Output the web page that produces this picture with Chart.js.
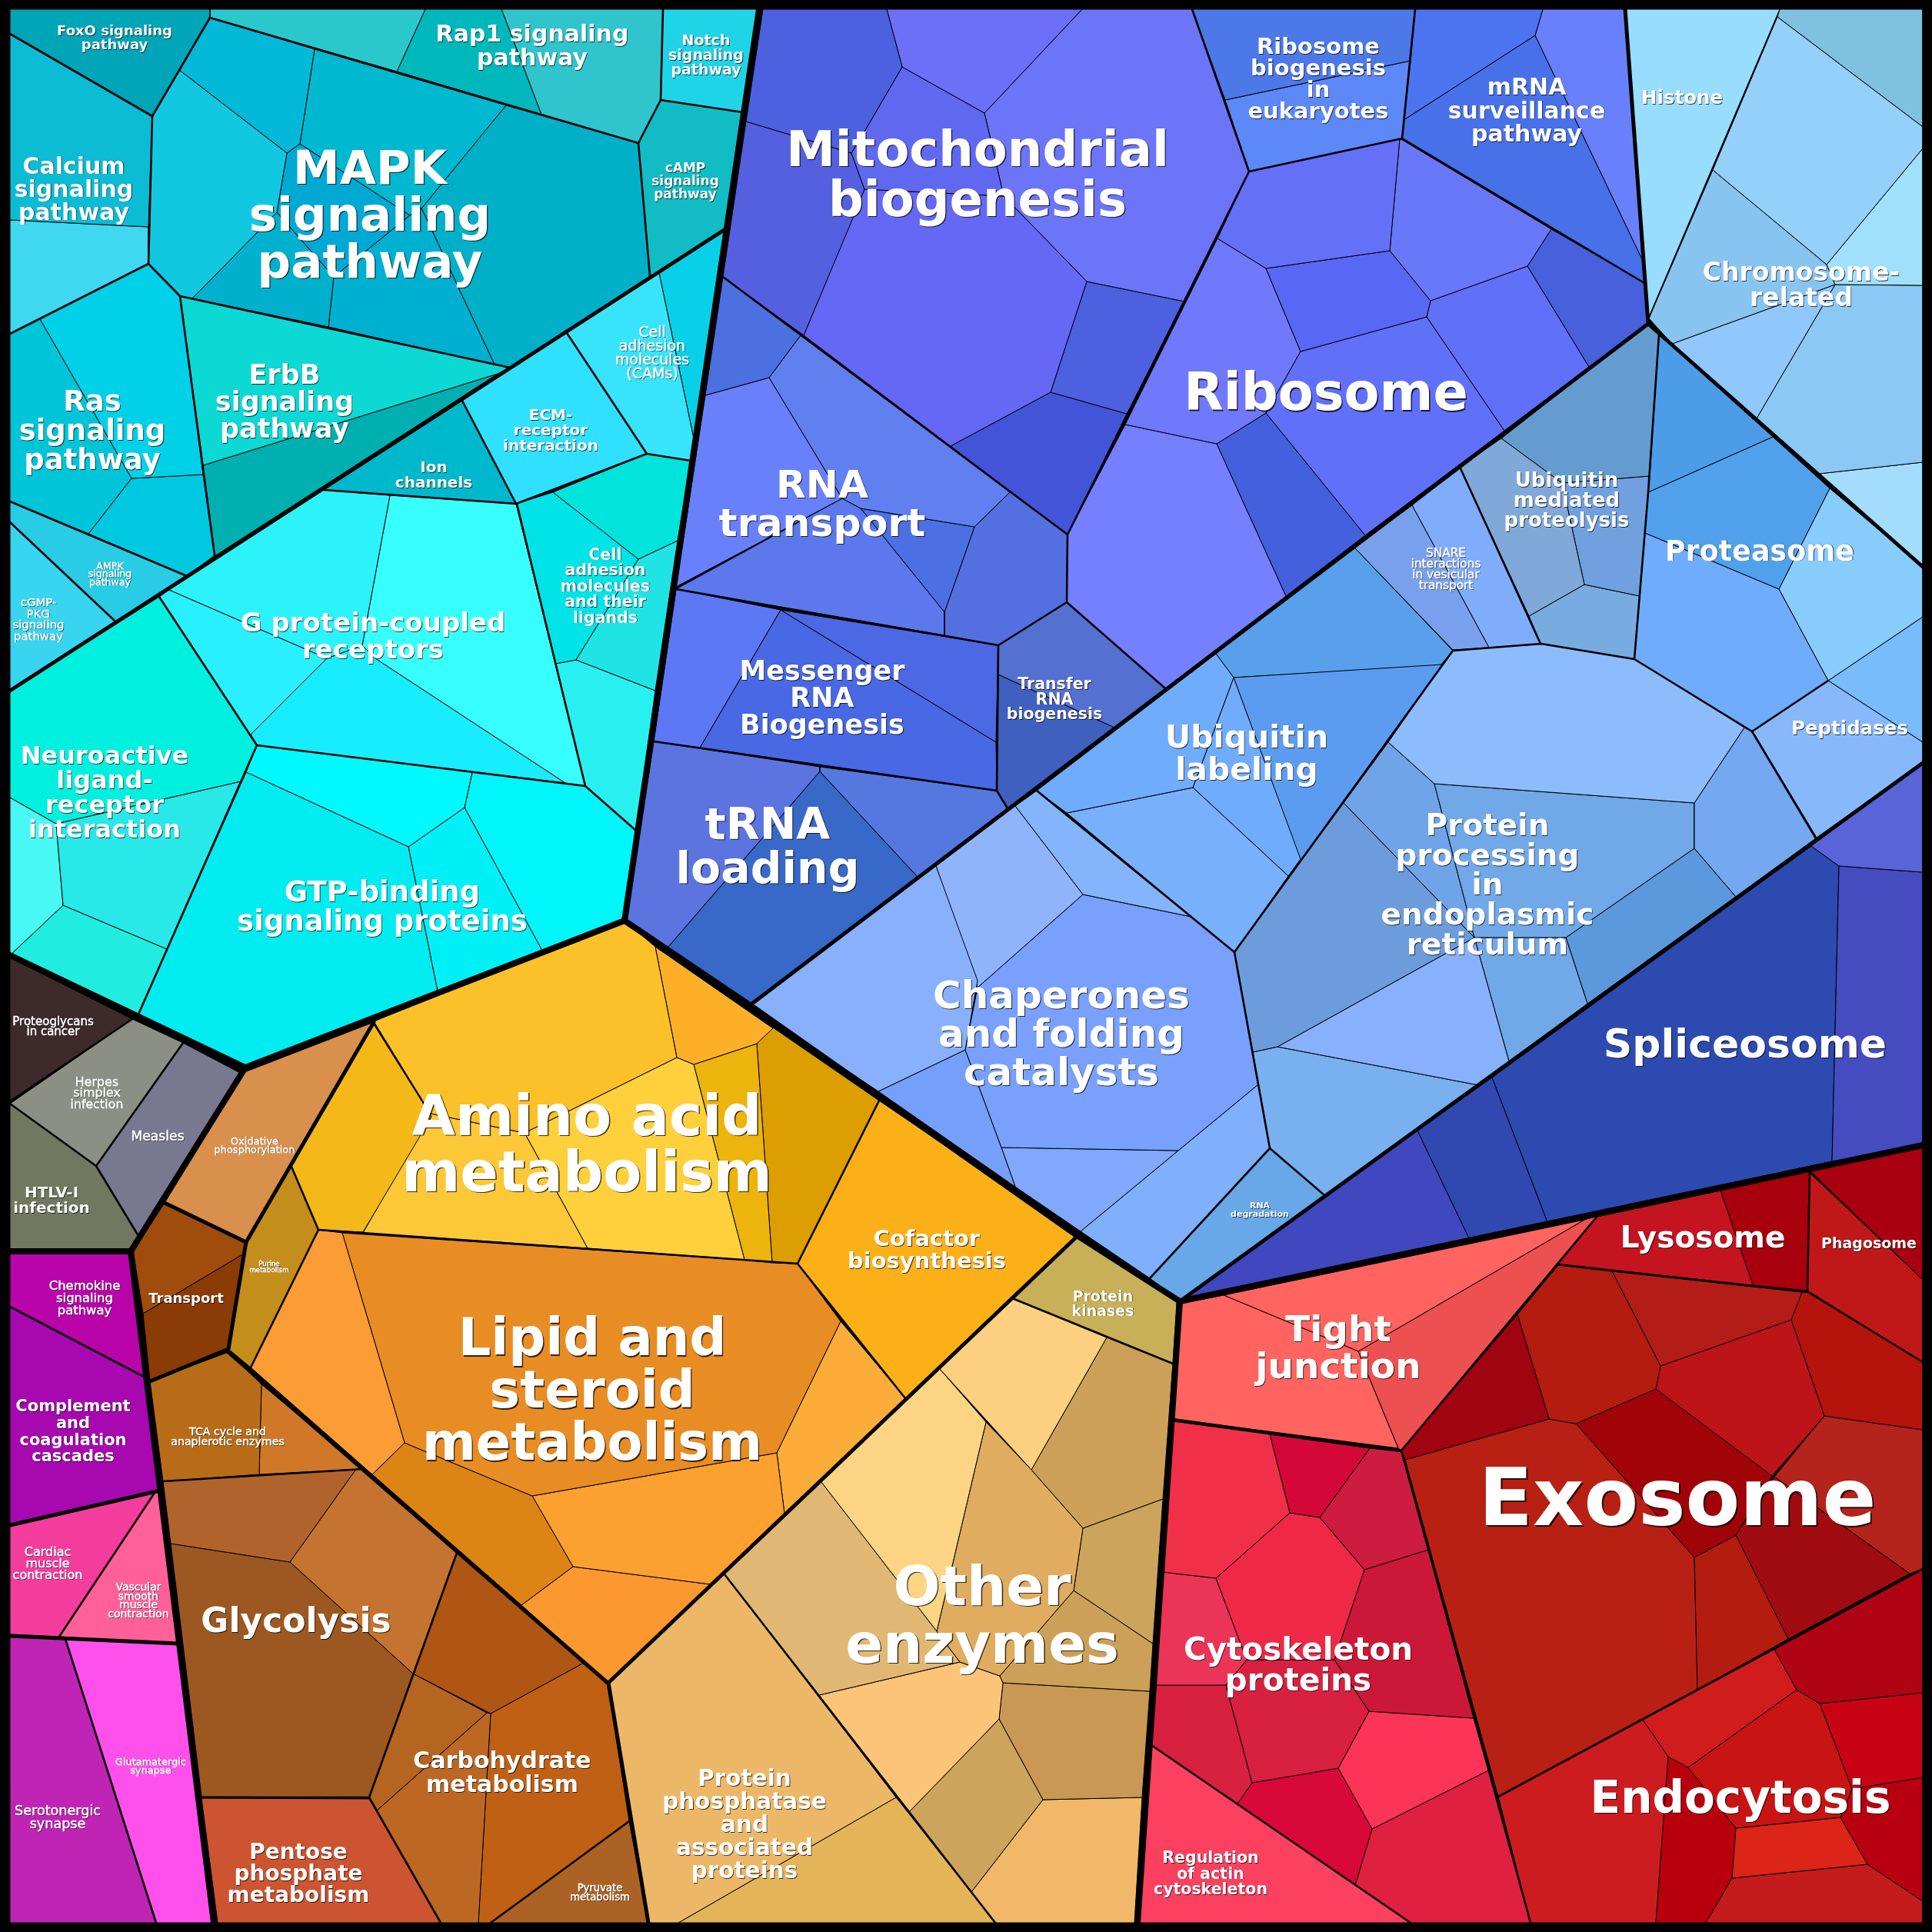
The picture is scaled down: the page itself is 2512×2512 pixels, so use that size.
<!DOCTYPE html>
<html>
<head>
<meta charset="utf-8">
<title>Proteomap</title>
<script src="https://cdn.jsdelivr.net/npm/chart.js@4"></script>
<style>
html, body { margin: 0; padding: 0; background: #000; overflow: hidden; }
canvas { display: block; }
</style>
</head>
<body>
<canvas id="proteomap" width="2512" height="2512"></canvas>
<script>
// cell outlines
const signalingCells = [
    [[13,12],[273,12],[273,23],[233,91],[198,151],[13,44]],
    [[13,44],[198,151],[193,295],[13,286]],
    [[13,286],[193,295],[193,343],[13,434]],
    [[198,151],[233,91],[373,199],[360,276],[250,388],[234,385],[193,343]],
    [[233,91],[273,23],[409,64],[390,187],[373,199]],
    [[409,64],[658,137],[548,271],[533,280],[390,187]],
    [[373,199],[390,187],[533,280],[434,360],[360,276]],
    [[360,276],[434,360],[427,425],[250,388]],
    [[434,360],[533,280],[548,271],[561,298],[596,374],[643,474],[427,425]],
    [[658,137],[830,186],[845,359],[663,478],[643,474],[596,374],[561,298],[548,271]],
    [[273,12],[553,12],[516,93],[273,23]],
    [[553,12],[652,12],[704,149],[516,93]],
    [[652,12],[862,12],[859,130],[830,186],[704,149]],
    [[862,12],[987,12],[966,146],[859,130]],
    [[859,130],[966,146],[943,298],[845,359],[830,186]],
    [[13,434],[52,415],[171,622],[115,694],[13,652]],
    [[52,415],[193,343],[234,385],[264,617],[171,622]],
    [[171,622],[264,617],[279,722],[243,749],[115,694]],
    [[13,652],[243,749],[150,808],[13,679]],
    [[13,679],[150,808],[13,898]],
    [[234,385],[663,478],[647,486],[264,605]],
    [[264,605],[647,486],[279,723]],
    [[601,521],[671,655],[421,637]],
    [[601,521],[737,433],[841,590],[671,655]],
    [[737,433],[857,355],[903,575],[898,599],[841,590]],
    [[857,355],[943,298],[903,575]],
    [[841,590],[898,599],[881,703],[830,727],[719,640]],
    [[830,727],[881,703],[852,898],[749,858]],
    [[671,655],[719,640],[830,727],[749,858],[722,863]],
    [[722,863],[749,858],[852,898],[827,1080],[761,1022]],
    [[421,637],[507,644],[471,839],[425,856],[220,767]],
    [[507,644],[671,655],[761,1022],[735,1018],[488,856],[471,839]],
    [[207,776],[220,767],[425,856],[326,955],[334,969]],
    [[425,856],[471,839],[488,856],[735,1018],[334,969],[326,955]],
    [[13,899],[207,776],[334,969],[313,1016],[73,1071],[13,1037]],
    [[73,1071],[313,1016],[217,1234],[82,1177]],
    [[13,1037],[73,1071],[82,1177],[13,1242]],
    [[82,1177],[217,1234],[179,1321],[13,1242]],
    [[320,1004],[531,1101],[569,1289],[319,1388],[179,1321]],
    [[334,969],[614,1004],[604,1050],[531,1101],[320,1004]],
    [[531,1101],[604,1050],[705,1236],[569,1289]],
    [[614,1004],[761,1022],[827,1080],[812,1197],[705,1236],[604,1050]]
];
const signalingColors = [
    '#00a5b8','#0bbcd4','#3fd8f0','#12c8e0','#04b8d8','#00b8d0','#00a8d4','#00b0cc','#00b0d0','#00b0c8',
    '#2ac8cc','#00b8bc','#30c4cc','#20d4e8','#12bcc4','#00c4d8','#00d0e8','#00c8e0','#28cce4','#38d4f0',
    '#0cd8d4','#00b0b0','#00b8cc','#30e0ff','#38e4fc','#08d0e8','#00e4dc','#20e4e4','#00e4e8','#28f0f0',
    '#2cf2fa','#38ffff','#28f0ff','#18ecff','#00f0e0','#28e8e8','#48f8f4','#20ece0','#00ecf0','#00faff',
    '#00f0f8','#00f6fa'
];

const infoCells = [
    [[992,12],[1153,12],[1173,87],[1124,171],[1107,199],[970,158]],
    [[1153,12],[1407,12],[1280,147],[1173,87]],
    [[1173,87],[1280,147],[1305,255],[1124,246],[1107,199],[1124,171]],
    [[970,158],[1107,199],[1124,246],[1110,281],[1045,436],[940,360]],
    [[1124,246],[1305,255],[1413,366],[1366,510],[1236,580],[1045,436]],
    [[1407,12],[1550,12],[1624,223],[1540,392],[1413,366],[1305,255],[1280,147]],
    [[1413,366],[1540,392],[1465,538],[1366,510]],
    [[1366,510],[1465,538],[1388,695],[1236,580]],
    [[1550,12],[1840,12],[1834,79],[1593,130]],
    [[1593,130],[1834,79],[1823,180],[1624,223]],
    [[1840,12],[2006,12],[1996,46],[1825,156]],
    [[2006,12],[2113,12],[2135,337],[1996,46]],
    [[1825,156],[1996,46],[2135,337],[2138,368],[1823,180]],
    [[1624,223],[1820,180],[1807,326],[1646,349],[1583,310]],
    [[1820,180],[2017,298],[1986,346],[1860,391],[1807,326]],
    [[2017,298],[2138,368],[2143,421],[2066,477],[1986,346]],
    [[1646,349],[1807,326],[1860,391],[1855,412],[1691,457]],
    [[1855,412],[1860,391],[1986,346],[2066,477],[1956,560]],
    [[1691,457],[1855,412],[1956,560],[1775,696],[1646,537]],
    [[1583,310],[1646,349],[1691,457],[1646,537],[1582,577],[1463,552]],
    [[1582,577],[1646,537],[1775,696],[1672,775]],
    [[1463,552],[1582,577],[1672,775],[1515,895],[1387,783],[1388,695]],
    [[940,360],[1041,436],[1000,491],[917,514]],
    [[1041,436],[1313,640],[1267,685],[1119,661],[1095,648],[1000,491]],
    [[917,514],[1000,491],[1095,648],[879,763]],
    [[1095,648],[1119,661],[1228,796],[1228,826],[879,766]],
    [[1119,661],[1267,685],[1228,796]],
    [[1267,685],[1313,640],[1388,695],[1387,783],[1298,839],[1228,826],[1228,796]],
    [[879,766],[1015,793],[910,972],[850,964]],
    [[1015,793],[1298,839],[1295,965]],
    [[1015,793],[1295,965],[1296,1028],[910,972]],
    [[1298,839],[1387,783],[1515,895],[1449,946],[1298,877]],
    [[1298,877],[1449,946],[1310,1051],[1296,1028]],
    [[850,964],[1066,997],[1066,1003],[868,1232],[814,1198]],
    [[1066,997],[1296,1028],[1310,1051],[1193,1140],[1066,1003]],
    [[1066,1003],[1193,1140],[975,1307],[868,1232]]
];
const infoColors = [
    '#4c60e0','#6c70f8','#6068f0','#5460e0','#6468f4','#6c74f8','#4c60e0','#4454d8','#4c78e8','#5c88f8',
    '#4c74f0','#6880fc','#4870e8','#6470f8','#6878f8','#4860dc','#5868f4','#6070f8','#6070f8','#7078fc',
    '#4460dc','#7480ff','#4c70e0','#6080f0','#6880fc','#5c78ec','#4c70e4','#5470e0','#5c78f4','#4c68e4',
    '#4868e4','#5470d0','#4060c0','#5c74e0','#5478e0','#3868c8'
];

const foldingCells = [
    [[1217,1126],[1271,1275],[1255,1365],[1142,1419],[975,1307]],
    [[1320,1048],[1408,1163],[1271,1284],[1217,1126]],
    [[1320,1048],[1348,1028],[1549,1192],[1408,1163]],
    [[1408,1163],[1549,1192],[1605,1238],[1636,1410],[1532,1496],[1302,1492],[1255,1365],[1271,1284]],
    [[1142,1419],[1255,1365],[1302,1492],[1320,1543]],
    [[1302,1492],[1532,1496],[1405,1601],[1320,1543]],
    [[1532,1496],[1636,1410],[1651,1493],[1495,1662],[1405,1601]],
    [[1651,1493],[1722,1554],[1534,1692],[1495,1662]],
    [[1348,1028],[1581,850],[1604,881],[1551,1024],[1387,1057]],
    [[1387,1057],[1551,1024],[1675,1139],[1605,1238]],
    [[1604,881],[1691,1117],[1675,1139],[1551,1024]],
    [[1604,881],[1875,864],[1691,1119]],
    [[1581,850],[1761,712],[1889,846],[1873,865],[1604,881]],
    [[1761,712],[1836,657],[1936,842],[1889,845]],
    [[1836,657],[1898,607],[2003,837],[1936,842]],
    [[1898,607],[1952,570],[2031,628],[2044,687],[2060,760],[1988,801]],
    [[1952,570],[2143,421],[2157,435],[2145,619],[2031,628]],
    [[2031,628],[2145,619],[2132,775],[2060,760],[2044,687]],
    [[1988,801],[2060,760],[2132,775],[2125,857],[2003,837]],
    [[2157,435],[2305,568],[2143,640]],
    [[2143,640],[2305,568],[2379,635],[2313,766],[2139,693]],
    [[2139,693],[2313,766],[2377,885],[2279,951],[2125,857]],
    [[2379,635],[2500,737],[2500,802],[2377,885],[2313,766]],
    [[2279,951],[2377,885],[2500,965],[2500,992],[2362,1089]],
    [[2377,885],[2500,802],[2500,965]],
    [[2113,12],[2314,12],[2143,414]],
    [[2311,22],[2500,165],[2500,193],[2375,344],[2227,221]],
    [[2314,12],[2500,12],[2500,165],[2311,22]],
    [[2375,344],[2500,193],[2500,371],[2386,370]],
    [[2227,221],[2375,344],[2386,370],[2174,447],[2144,414]],
    [[2174,447],[2386,370],[2284,544]],
    [[2386,370],[2500,371],[2500,601],[2365,616],[2284,544]],
    [[2365,616],[2500,601],[2500,737]],
    [[1889,845],[2004,837],[2125,857],[2268,946],[2203,1044],[1865,1019],[1805,965]],
    [[2268,946],[2278,951],[2361,1090],[2257,1166],[2203,1103],[2203,1044]],
    [[1865,1019],[2203,1044],[2203,1103],[2036,1219],[1917,1219]],
    [[1805,965],[1865,1019],[1917,1219],[1747,1044]],
    [[1747,1044],[1917,1219],[1661,1361],[1629,1368],[1605,1238]],
    [[1661,1361],[1917,1219],[1962,1380],[1923,1411]],
    [[1629,1368],[1661,1361],[1923,1411],[1722,1554],[1651,1492]],
    [[1917,1219],[2036,1219],[2064,1305],[1962,1380]],
    [[2036,1219],[2203,1103],[2257,1166],[2064,1305]],
    [[2355,1100],[2500,992],[2500,1134],[2391,1126]],
    [[2391,1126],[2500,1134],[2500,1489],[2382,1510]],
    [[2355,1100],[2391,1126],[2382,1510],[2012,1589],[1940,1401]],
    [[1940,1401],[2012,1589],[1910,1610],[1843,1470]],
    [[1843,1470],[1910,1610],[1534,1692]]
];
const foldingColors = [
    '#88b0fc','#90b4fc','#84b4fc','#78a0fc','#74a0fc','#80a8fc','#80b0fc','#68a8e8','#70acfc','#78b0fc',
    '#70acfc','#5c9cf0','#58a0ec','#78a0ec','#80acfc','#80a8d8','#649cd0','#70a0e0','#78ace0','#4c9ce8',
    '#50a0ec','#70acfc','#88ccfc','#88b8fc','#78bcfc','#98dcfe','#94d0fa','#80c0e0','#a0e0fc','#88c4f0',
    '#90c8fc','#8cc8f4','#a4dcfe','#8cbcfc','#74a8f0','#70a8e8','#70a4e8','#6c9cdc','#88b0fc','#78b0f0',
    '#70a8e8','#5c98dc','#5864d8','#444cc0','#2c4ab0','#3048b0','#4048c0'
];

const metabolismCells = [
    [[486,1332],[561,1452],[472,1602],[414,1599],[379,1517]],
    [[486,1328],[812,1197],[852,1231],[880,1375],[682,1473],[560,1448]],
    [[560,1448],[682,1473],[764,1623],[472,1603]],
    [[880,1375],[902,1384],[968,1638],[764,1623],[682,1473]],
    [[852,1231],[1005,1337],[984,1357],[902,1384],[880,1375]],
    [[902,1384],[984,1357],[1004,1642],[968,1638]],
    [[1005,1336],[1143,1431],[1037,1643],[1004,1642],[984,1357]],
    [[1143,1431],[1400,1606],[1177,1818],[1037,1643]],
    [[414,1599],[445,1603],[526,1876],[484,1917],[326,1778]],
    [[445,1603],[1037,1643],[1093,1718],[1010,1889],[692,1945],[526,1876]],
    [[526,1876],[692,1945],[745,2037],[678,2087],[484,1917]],
    [[692,1945],[1010,1889],[1020,1968],[924,2060],[745,2037]],
    [[1093,1718],[1177,1818],[1020,1968],[1010,1889]],
    [[745,2037],[924,2060],[790,2188],[678,2087]],
    [[1402,1606],[1530,1693],[1525,1773],[1316,1688]],
    [[1316,1688],[1439,1739],[1341,1911],[1222,1780]],
    [[1439,1739],[1525,1773],[1512,1949],[1408,1987],[1341,1911]],
    [[1222,1780],[1282,1849],[1218,2121],[1068,1927]],
    [[1282,1849],[1341,1911],[1408,1987],[1396,2068],[1300,2179],[1248,2161],[1218,2121]],
    [[1408,1987],[1512,1949],[1499,2137],[1396,2068]],
    [[1396,2068],[1499,2137],[1495,2199],[1304,2188],[1300,2179]],
    [[1068,1927],[1218,2121],[1248,2161],[1065,2204],[942,2047]],
    [[1065,2204],[1248,2161],[1300,2179],[1304,2188],[1299,2235],[1182,2356]],
    [[1299,2235],[1356,2340],[1263,2460],[1182,2356]],
    [[1304,2188],[1495,2199],[1485,2337],[1356,2340],[1299,2235]],
    [[1356,2340],[1485,2337],[1475,2500],[1294,2500],[1263,2460]],
    [[791,2188],[942,2047],[1165,2337],[882,2500],[843,2500]],
    [[1165,2337],[1294,2500],[882,2500]],
    [[318,1394],[486,1329],[320,1615],[214,1564]],
    [[379,1517],[414,1599],[326,1778],[297,1754],[320,1615]],
    [[214,1564],[320,1615],[317,1630],[186,1708],[173,1626]],
    [[186,1708],[317,1630],[297,1754],[195,1796]],
    [[195,1796],[297,1758],[340,1800],[337,1917],[212,1926]],
    [[340,1800],[472,1910],[337,1917]],
    [[212,1926],[463,1910],[377,2031],[222,2007]],
    [[463,1910],[472,1910],[594,2019],[537,2176],[377,2031]],
    [[222,2007],[377,2031],[537,2176],[480,2337],[262,2336]],
    [[594,2019],[759,2162],[638,2228],[537,2176]],
    [[537,2176],[633,2227],[490,2354],[480,2337]],
    [[633,2227],[638,2228],[622,2500],[573,2500],[490,2354]],
    [[638,2228],[759,2162],[790,2188],[818,2368],[638,2500],[622,2500]],
    [[818,2368],[843,2500],[638,2500]],
    [[262,2338],[480,2339],[573,2500],[283,2500]]
];
const metabolismColors = [
    '#f4b818','#fcc028','#fcc838','#fed03c','#fcb028','#ecb40c','#dc9e00','#fcb018','#fc9c34','#e88c24',
    '#dc8414','#fca030','#fcac38','#fc9830','#c8b058','#fcd080','#cca058','#fcd484','#dfac60','#cca45c',
    '#cca058','#e0b874','#fcc478','#cca45c','#c89854','#f0b868','#ecb868','#e4b458','#d8904c','#c48e1c',
    '#a04c0c','#8a3c04','#b86c18','#d07828','#b0642c','#c47430','#9c5820','#b05614','#b46620','#bc6824',
    '#c06014','#ac6224','#cc5430'
];

const cellularCells = [
    [[1534,1695],[1591,1684],[1766,1757],[1818,1883],[1525,1845]],
    [[1591,1684],[2060,1586],[1766,1757]],
    [[1766,1757],[2060,1586],[2077,1581],[1822,1886],[1818,1883]],
    [[2077,1582],[2237,1548],[2279,1671],[2026,1644]],
    [[2237,1548],[2353,1522],[2350,1678],[2279,1671]],
    [[2353,1525],[2500,1664],[2500,1771],[2350,1678]],
    [[2353,1522],[2500,1491],[2500,1664]],
    [[1973,1709],[2014,1845],[1827,1898],[1822,1886]],
    [[2026,1645],[2096,1653],[2159,1776],[2153,1806],[2049,1851],[2014,1845],[1973,1709]],
    [[2096,1653],[2343,1680],[2329,1716],[2159,1776]],
    [[2159,1776],[2329,1716],[2372,1841],[2304,1919],[2153,1806]],
    [[2343,1680],[2351,1680],[2500,1771],[2500,1859],[2372,1841],[2329,1716]],
    [[2372,1841],[2500,1859],[2500,2040],[2483,2046],[2307,1920]],
    [[2049,1851],[2153,1806],[2304,1919],[2257,1996],[2203,2025]],
    [[2257,1996],[2307,1920],[2483,2046],[2325,2131]],
    [[2203,2025],[2257,1996],[2325,2131],[2207,2197]],
    [[1827,1898],[2014,1845],[2049,1851],[2203,2025],[2207,2197],[1948,2336]],
    [[2306,2143],[2500,2038],[2500,2201],[2366,2215],[2336,2197]],
    [[2136,2236],[2306,2143],[2336,2197],[2195,2298],[2169,2284]],
    [[2195,2298],[2336,2197],[2366,2215],[2408,2326],[2393,2363],[2257,2377]],
    [[2366,2215],[2500,2201],[2500,2311],[2408,2326]],
    [[2408,2326],[2500,2311],[2500,2472],[2428,2424],[2393,2363]],
    [[2257,2377],[2393,2363],[2428,2424],[2252,2442]],
    [[2252,2442],[2428,2424],[2500,2472],[2500,2500],[2218,2500]],
    [[2169,2284],[2195,2298],[2257,2377],[2252,2442],[2218,2500],[2153,2500]],
    [[1948,2336],[2136,2236],[2169,2284],[2153,2500],[1990,2500]],
    [[1525,1848],[1651,1865],[1677,1967],[1581,2052],[1512,2044]],
    [[1651,1865],[1781,1883],[1716,1973],[1677,1967]],
    [[1781,1883],[1825,1888],[1857,2015],[1774,2041],[1716,1973]],
    [[1677,1967],[1716,1973],[1774,2041],[1735,2158],[1621,2158],[1581,2052]],
    [[1512,2044],[1581,2052],[1621,2158],[1594,2191],[1502,2191]],
    [[1857,2015],[1916,2234],[1780,2225],[1735,2158],[1774,2041]],
    [[1621,2158],[1735,2158],[1780,2225],[1740,2299],[1628,2318],[1594,2191]],
    [[1502,2191],[1594,2191],[1628,2318],[1609,2345],[1497,2269]],
    [[1780,2225],[1916,2234],[1935,2302],[1784,2378],[1740,2299]],
    [[1628,2318],[1740,2299],[1784,2378],[1762,2451],[1609,2345]],
    [[1784,2378],[1935,2302],[1990,2500],[1834,2500],[1762,2451]],
    [[1497,2269],[1834,2500],[1480,2500]]
];
const cellularColors = [
    '#ff6460','#ff6460','#ec5050','#c41420','#a8000c','#c01818','#a80010','#a00410','#b41c10','#b41c18',
    '#bc1418','#b4140c','#b4241c','#a00408','#a00c10','#b41c10','#b82014','#b00414','#d01c1c','#c81414',
    '#c80414','#b80010','#dc2418','#c41c1c','#b8000c','#cc1c20','#f03048','#d40838','#cc1c40','#f02848',
    '#ec3458','#cc1838','#d82040','#d82040','#fc3458','#d80838','#e02040','#fc4060'
];

const otherCells = [
    [[13,1245],[172,1325],[13,1432]],
    [[172,1325],[238,1356],[125,1516],[13,1435]],
    [[238,1356],[314,1396],[180,1607],[125,1516]],
    [[13,1435],[125,1516],[180,1607],[170,1627],[13,1627]],
    [[13,1630],[170,1630],[189,1791],[13,1699]],
    [[13,1699],[189,1791],[208,1938],[13,1982]],
    [[13,1985],[201,1941],[77,2128],[13,2125]],
    [[201,1941],[208,1938],[232,2138],[77,2128]],
    [[13,2127],[85,2131],[203,2500],[13,2500]],
    [[85,2131],[232,2138],[278,2500],[203,2500]]
];
const otherColors = [
    '#3e2a2a','#8c9084','#787890','#727860','#b804a8','#a808b0','#f43c9c','#ff6098','#c024b4','#ff50ec'
];

// boundaries between the groups of cells
const majorLines = [
    [[987,12],[812,1197]],
    [[319,1388],[812,1197],[975,1307],[1400,1606],[1534,1692],[2500,1489]],
    [[13,1242],[319,1388],[170,1627],[13,1627]],
    [[170,1627],[278,2500]],
    [[1534,1692],[1479,2500]]
];
const heavyLines = [
    [[943,298],[13,898]],
    [[975,1307],[2143,421]],
    [[2113,12],[2143,421],[2500,737]],
    [[1534,1692],[2500,992]],
    [[1402,1606],[791,2188],[843,2500]],
    [[297,1758],[790,2188]],
    [[13,1983],[208,1938]],
    [[13,2127],[232,2137]],
    [[214,1564],[320,1615]],
    [[486,1329],[320,1615],[297,1754],[195,1796]]
];
const midLines = [
    [[13,44],[198,151]],
    [[273,23],[198,151],[193,343],[13,434]],
    [[273,23],[830,186],[845,359]],
    [[193,343],[234,385],[663,478]],
    [[859,130],[830,186]],
    [[859,130],[966,146]],
    [[862,12],[859,130]],
    [[234,385],[279,722]],
    [[13,652],[243,749]],
    [[13,679],[150,808]],
    [[601,521],[671,655]],
    [[737,433],[841,590],[671,655]],
    [[841,590],[898,599]],
    [[672,655],[761,1022],[827,1080]],
    [[421,637],[671,655]],
    [[207,776],[334,969],[761,1022]],
    [[334,969],[179,1321]],
    [[1550,12],[1624,223],[1388,695],[940,360]],
    [[1624,223],[1823,180],[1840,12]],
    [[1823,180],[2138,368]],
    [[1388,695],[1387,783],[1298,839],[879,766]],
    [[1298,839],[1296,1028],[850,964]],
    [[1296,1028],[1310,1051]],
    [[1387,783],[1515,895]],
    [[1348,1028],[1605,1238],[1889,846]],
    [[1605,1238],[1651,1493],[1722,1554]],
    [[1651,1493],[1495,1662]],
    [[1889,846],[2004,837],[2125,857],[2278,951],[2361,1090]],
    [[1898,607],[2003,837]],
    [[2157,435],[2143,640],[2125,857]],
    [[2278,951],[2377,885]],
    [[13,1699],[189,1791]],
    [[77,2128],[201,1941]],
    [[85,2131],[203,2500]],
    [[13,1432],[172,1325]],
    [[13,1435],[125,1516],[180,1607]],
    [[238,1356],[125,1516]],
    [[379,1517],[414,1599],[326,1778]],
    [[212,1926],[472,1910]],
    [[594,2019],[480,2337],[573,2500]],
    [[262,2337],[480,2337]],
    [[638,2500],[818,2368]],
    [[414,1599],[1037,1643],[1177,1818]],
    [[1037,1643],[1143,1431]],
    [[1316,1688],[1525,1773]],
    [[942,2047],[1294,2500]],
    [[1822,1886],[2077,1581]],
    [[1525,1845],[1822,1886],[1990,2500]],
    [[1948,2336],[2500,2040]],
    [[2026,1644],[2351,1680],[2500,1771]],
    [[2353,1522],[2350,1678]],
    [[1497,2269],[1834,2500]]
];

// labels
const labelTexts = [
    'FoxO signaling\npathway','Rap1 signaling\npathway','Notch\nsignaling\npathway','cAMP\nsignaling\npathway',
    'MAPK\nsignaling\npathway','Calcium\nsignaling\npathway','Ras\nsignaling\npathway','ErbB\nsignaling\npathway',
    'Cell\nadhesion\nmolecules\n(CAMs)','ECM-\nreceptor\ninteraction','Ion\nchannels',
    'Cell\nadhesion\nmolecules\nand their\nligands','G protein-coupled\nreceptors',
    'Neuroactive\nligand-\nreceptor\ninteraction','GTP-binding\nsignaling proteins','AMPK\nsignaling\npathway',
    'cGMP-\nPKG\nsignaling\npathway','Proteoglycans\nin cancer','Herpes\nsimplex\ninfection','Measles',
    'HTLV-I\ninfection','Oxidative\nphosphorylation','Purine\nmetabolism','Transport','Chemokine\nsignaling\npathway',
    'Complement\nand\ncoagulation\ncascades','Cardiac\nmuscle\ncontraction','Vascular\nsmooth\nmuscle\ncontraction',
    'Serotonergic\nsynapse','Glutamatergic\nsynapse','TCA cycle and\nanaplerotic enzymes','Glycolysis',
    'Carbohydrate\nmetabolism','Pentose\nphosphate\nmetabolism','Pyruvate\nmetabolism','Amino acid\nmetabolism',
    'Lipid and\nsteroid\nmetabolism','Cofactor\nbiosynthesis','Protein\nkinases','Other\nenzymes',
    'Protein\nphosphatase\nand\nassociated\nproteins','Tight\njunction','Lysosome','Phagosome','Exosome','Endocytosis',
    'Cytoskeleton\nproteins','Regulation\nof actin\ncytoskeleton','Spliceosome','Peptidases',
    'Protein\nprocessing\nin\nendoplasmic\nreticulum','RNA\ndegradation','Ubiquitin\nlabeling',
    'Chaperones\nand folding\ncatalysts','Messenger\nRNA\nBiogenesis','Transfer\nRNA\nbiogenesis','tRNA\nloading',
    'RNA\ntransport','Mitochondrial\nbiogenesis','Ribosome\nbiogenesis\nin\neukaryotes','mRNA\nsurveillance\npathway',
    'Ribosome','Histone','Chromosome-\nrelated','Ubiquitin\nmediated\nproteolysis',
    'SNARE\ninteractions\nin vesicular\ntransport','Proteasome'
];
const labelX = [
    149,692,918,891,481,96,120,370,848,716,564,787,485,136,497,143,50,69,126,205,67,331,350,242,110,95,62,180,75,196,
    296,385,653,388,780,763,770,1205,1434,1277,968,1740,2214,2430,2181,2263,1688,1574,2269,2405,1934,1638,1621,1380,
    1069,1371,998,1069,1271,1714,1985,1724,2187,2342,2037,1880,2288
];
const labelY = [
    48,59,71,235,279,245,559,522,458,559,617,761,827,1030,1178,745,804,1334,1420,1477,1560,1488,1646,1687,1687,1860,
    2032,2080,2362,2295,1867,2107,2304,2435,2460,1488,1808,1624,1694,2100,2372,1752,1609,1616,1949,2337,2164,2435,
    1357,946,1150,1572,979,1344,907,908,1100,655,227,102,143,511,126,370,650,739,716
];
const labelSizes = [
    18,30,19,17,61,30,37,35,19,20,20,20.5,34,32,37,12.6,14.9,15,15.9,17.2,20,13,8.7,18,16.4,21,16,14,17.6,12.9,
    14.2,44,30,28,13.2,73,67,29,19,72,29.5,47,39,19,103,58,40.5,20.5,52,24.5,39,11,41,50,35,20.5,57,50.5,64,29,30,67,
    24.5,33,26,15.3,36.5
];
const labelLeadings = [
    18,31,19,17,61,30,38,35,18,20,20,20.5,35,32,38,10.5,14.5,12.6,14.5,17.6,20,11,7.6,18,16,21.7,15,11.7,16.5,11,
    13,44,31,28,12.5,73,68,29,19,75,30,48.5,39,19,103,58,40.5,20.5,52,24.5,38.7,11,42,50,35,19.7,57,50.5,65,28,30.5,67,
    24.5,33,26,14,36.5
];
// these small labels are set in the regular weight
const regularLabels = [8,15,16,17,18,19,21,22,24,26,27,28,29,30,34,65];

// one dataset per cell, the boundaries go in front
const cellGroups = [
    [signalingCells, signalingColors],
    [infoCells, infoColors],
    [foldingCells, foldingColors],
    [metabolismCells, metabolismColors],
    [cellularCells, cellularColors],
    [otherCells, otherColors]
];

function toPoints(path) {
    return path.map(p => ({ x: p[0], y: p[1] }));
}

function lineDataset(path, width) {
    return {
        data: toPoints(path),
        showLine: true,
        fill: false,
        borderColor: '#000',
        borderWidth: width,
        borderJoinStyle: 'round',
        borderCapStyle: 'round',
        pointRadius: 0,
        order: 0
    };
}

const datasets = [];
cellGroups.forEach(([cells, colors]) => {
    cells.forEach((cell, i) => {
        datasets.push({
            data: toPoints(cell.concat([cell[0]])),
            showLine: true,
            fill: 'shape',
            backgroundColor: colors[i],
            borderColor: '#000',
            borderWidth: 1,
            borderJoinStyle: 'round',
            pointRadius: 0,
            order: 1
        });
    });
});
midLines.forEach(path => datasets.push(lineDataset(path, 2.6)));
heavyLines.forEach(path => datasets.push(lineDataset(path, 5)));
majorLines.forEach(path => datasets.push(lineDataset(path, 8)));

// the labels are real canvas text, placed through the scales
const labelPlugin = {
    id: 'cellLabels',
    afterDatasetsDraw(chart) {
        const ctx = chart.ctx;
        const xScale = chart.scales.x;
        const yScale = chart.scales.y;
        ctx.save();
        ctx.textAlign = 'center';
        ctx.textBaseline = 'middle';
        ctx.lineJoin = 'round';
        labelTexts.forEach((text, i) => {
            const size = labelSizes[i];
            const leading = labelLeadings[i];
            const lines = text.split('\n');
            const cx = xScale.getPixelForValue(labelX[i]);
            const cy = yScale.getPixelForValue(labelY[i]) + 1 + size * 0.06;
            const top = cy - (lines.length - 1) * leading / 2;
            const off = Math.max(0.8, size * 0.02);
            const regular = regularLabels.includes(i);
            ctx.font = (regular ? 'normal' : 'bold') + ' ' + size + 'px "DejaVu Sans"';
            lines.forEach((line, k) => {
                const ly = top + k * leading;
                ctx.fillStyle = 'rgba(0,0,0,0.75)';
                ctx.fillText(line, cx + off, ly + off);
                ctx.fillStyle = '#fff';
                ctx.fillText(line, cx, ly);
                if (regular) {
                    // a hair of stroke, the small labels are a bit heavier than plain regular
                    ctx.strokeStyle = '#fff';
                    ctx.lineWidth = 0.5;
                    ctx.strokeText(line, cx, ly);
                }
            });
        });
        ctx.restore();
    }
};

new Chart(document.getElementById('proteomap').getContext('2d'), {
    type: 'scatter',
    data: { datasets: datasets },
    options: {
        responsive: false,
        animation: false,
        devicePixelRatio: 1,
        layout: { padding: 0 },
        plugins: { legend: { display: false }, tooltip: { enabled: false } },
        scales: {
            x: { type: 'linear', min: 0, max: 2512, display: false },
            y: { type: 'linear', min: 0, max: 2512, reverse: true, display: false }
        }
    },
    plugins: [labelPlugin]
});
</script>
</body>
</html>
